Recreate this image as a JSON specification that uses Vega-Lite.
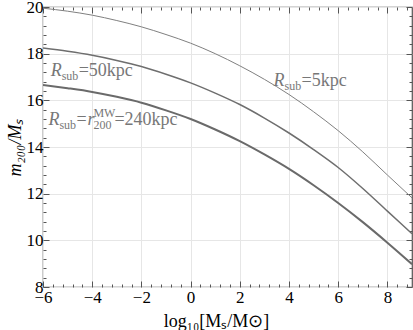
{
  "$schema": "https://vega.github.io/schema/vega-lite/v6.json",
  "width": 369,
  "height": 280,
  "autosize": {"type": "none"},
  "padding": {"left": 43, "top": 7, "right": 1, "bottom": 43},
  "background": "white",
  "config": {
    "view": {"stroke": "#555555", "strokeWidth": 1.2},
    "font": "Liberation Serif",
    "axis": {
      "domain": false,
      "labelFont": "Liberation Serif",
      "labelFontSize": 17,
      "labelColor": "#000000",
      "labelOverlap": false,
      "titleFont": "Liberation Serif",
      "titleFontSize": 18,
      "titleFontWeight": "normal",
      "titleColor": "#000000",
      "tickColor": "#555555",
      "gridColor": "#e6e6e6",
      "gridWidth": 1
    }
  },
  "datasets": {
    "curves": [
      {"x": -6, "y": 19.95, "s": "5kpc"}, {"x": -5, "y": 19.82, "s": "5kpc"}, {"x": -4, "y": 19.65, "s": "5kpc"}, {"x": -3, "y": 19.42, "s": "5kpc"}, {"x": -2, "y": 19.15, "s": "5kpc"}, {"x": -1, "y": 18.82, "s": "5kpc"}, {"x": 0, "y": 18.45, "s": "5kpc"}, {"x": 1, "y": 18.0, "s": "5kpc"}, {"x": 2, "y": 17.48, "s": "5kpc"}, {"x": 3, "y": 16.9, "s": "5kpc"}, {"x": 4, "y": 16.25, "s": "5kpc"}, {"x": 5, "y": 15.51, "s": "5kpc"}, {"x": 6, "y": 14.7, "s": "5kpc"}, {"x": 7, "y": 13.79, "s": "5kpc"}, {"x": 8, "y": 12.8, "s": "5kpc"}, {"x": 9, "y": 11.82, "s": "5kpc"},
      {"x": -6, "y": 18.24, "s": "50kpc"}, {"x": -5, "y": 18.1, "s": "50kpc"}, {"x": -4, "y": 17.93, "s": "50kpc"}, {"x": -3, "y": 17.71, "s": "50kpc"}, {"x": -2, "y": 17.45, "s": "50kpc"}, {"x": -1, "y": 17.12, "s": "50kpc"}, {"x": 0, "y": 16.75, "s": "50kpc"}, {"x": 1, "y": 16.31, "s": "50kpc"}, {"x": 2, "y": 15.82, "s": "50kpc"}, {"x": 3, "y": 15.24, "s": "50kpc"}, {"x": 4, "y": 14.6, "s": "50kpc"}, {"x": 5, "y": 13.89, "s": "50kpc"}, {"x": 6, "y": 13.12, "s": "50kpc"}, {"x": 7, "y": 12.22, "s": "50kpc"}, {"x": 8, "y": 11.25, "s": "50kpc"}, {"x": 9, "y": 10.28, "s": "50kpc"},
      {"x": -6, "y": 16.66, "s": "240kpc"}, {"x": -5, "y": 16.52, "s": "240kpc"}, {"x": -4, "y": 16.36, "s": "240kpc"}, {"x": -3, "y": 16.15, "s": "240kpc"}, {"x": -2, "y": 15.9, "s": "240kpc"}, {"x": -1, "y": 15.57, "s": "240kpc"}, {"x": 0, "y": 15.2, "s": "240kpc"}, {"x": 1, "y": 14.75, "s": "240kpc"}, {"x": 2, "y": 14.25, "s": "240kpc"}, {"x": 3, "y": 13.68, "s": "240kpc"}, {"x": 4, "y": 13.06, "s": "240kpc"}, {"x": 5, "y": 12.36, "s": "240kpc"}, {"x": 6, "y": 11.6, "s": "240kpc"}, {"x": 7, "y": 10.78, "s": "240kpc"}, {"x": 8, "y": 9.9, "s": "240kpc"}, {"x": 9, "y": 8.98, "s": "240kpc"}
    ],
    "labels": [
      {"id": "l50", "x": -5.69, "y": 17.04, "r": "R", "sub": "sub", "rest": "=50kpc"},
      {"id": "l5", "x": 3.37, "y": 16.62, "r": "R", "sub": "sub", "rest": "=5kpc"},
      {"id": "l240", "x": -5.78, "y": 14.94, "r": "R", "sub": "sub", "eq": "=", "r2": "r", "sup": "MW", "sub2": "200", "rest2": "=240kpc"}
    ]
  },
  "layer": [
    {
      "data": {"name": "curves"},
      "mark": {"type": "line", "interpolate": "monotone", "clip": true},
      "encoding": {
        "x": {
          "field": "x", "type": "quantitative",
          "scale": {"domain": [-6, 9], "nice": false, "zero": false},
          "axis": {
            "orient": "bottom",
            "values": [-6, -5.6, -5.2, -4.8, -4.4, -4, -3.6, -3.2, -2.8, -2.4, -2, -1.6, -1.2, -0.8, -0.4, 0, 0.4, 0.8, 1.2, 1.6, 2, 2.4, 2.8, 3.2, 3.6, 4, 4.4, 4.8, 5.2, 5.6, 6, 6.4, 6.8, 7.2, 7.6, 8, 8.4, 8.8],
            "labelExpr": "abs(datum.value % 2) < 0.01 ? format(datum.value, 'd') : ''",
            "tickSize": {"condition": {"test": "abs(datum.value % 2) < 0.01", "value": -6}, "value": -3},
            "gridOpacity": {"condition": {"test": "abs(datum.value % 2) < 0.01", "value": 1}, "value": 0},
            "grid": true,
            "labelPadding": 8,
            "labelFlush": false,
            "title": "log₁₀[Mₛ/M⊙]",
            "titleAnchor": "middle",
            "titleX": 173,
            "titlePadding": 4
          }
        },
        "y": {
          "field": "y", "type": "quantitative",
          "scale": {"domain": [8, 20], "nice": false, "zero": false},
          "axis": {
            "orient": "left",
            "values": [8, 8.4, 8.8, 9.2, 9.6, 10, 10.4, 10.8, 11.2, 11.6, 12, 12.4, 12.8, 13.2, 13.6, 14, 14.4, 14.8, 15.2, 15.6, 16, 16.4, 16.8, 17.2, 17.6, 18, 18.4, 18.8, 19.2, 19.6, 20],
            "labelExpr": "abs(datum.value % 2) < 0.01 ? format(datum.value, 'd') : ''",
            "tickSize": {"condition": {"test": "abs(datum.value % 2) < 0.01", "value": -6}, "value": -3},
            "gridOpacity": {"condition": {"test": "abs(datum.value % 2) < 0.01", "value": 1}, "value": 0},
            "grid": true,
            "labelPadding": 6,
            "labelFlush": false,
            "title": "m₂₀₀/Mₛ",
            "titleFontStyle": "italic",
            "titlePadding": 2
          }
        },
        "detail": {"field": "s"},
        "strokeWidth": {"field": "s", "type": "nominal", "scale": {"domain": ["5kpc", "50kpc", "240kpc"], "range": [1, 2, 3]}, "legend": null},
        "color": {"field": "s", "type": "nominal", "scale": {"domain": ["5kpc", "50kpc", "240kpc"], "range": ["#808080", "#6e6e6e", "#6a6a6a"]}, "legend": null}
      }
    },
    {
      "data": {"name": "curves"},
      "mark": {"type": "point", "opacity": 0},
      "encoding": {
        "x": {
          "field": "x", "type": "quantitative",
          "axis": {
            "orient": "top",
            "values": [-6, -5.6, -5.2, -4.8, -4.4, -4, -3.6, -3.2, -2.8, -2.4, -2, -1.6, -1.2, -0.8, -0.4, 0, 0.4, 0.8, 1.2, 1.6, 2, 2.4, 2.8, 3.2, 3.6, 4, 4.4, 4.8, 5.2, 5.6, 6, 6.4, 6.8, 7.2, 7.6, 8, 8.4, 8.8],
            "labels": false, "grid": false, "title": null,
            "tickSize": {"condition": {"test": "abs(datum.value % 2) < 0.01", "value": -6}, "value": -3}
          }
        },
        "y": {
          "field": "y", "type": "quantitative",
          "axis": {
            "orient": "right",
            "values": [8, 8.4, 8.8, 9.2, 9.6, 10, 10.4, 10.8, 11.2, 11.6, 12, 12.4, 12.8, 13.2, 13.6, 14, 14.4, 14.8, 15.2, 15.6, 16, 16.4, 16.8, 17.2, 17.6, 18, 18.4, 18.8, 19.2, 19.6, 20],
            "labels": false, "grid": false, "title": null,
            "tickSize": {"condition": {"test": "abs(datum.value % 2) < 0.01", "value": -6}, "value": -3}
          }
        }
      }
    },
    {
      "data": {"name": "labels"},
      "mark": {"type": "text", "align": "left", "baseline": "alphabetic", "fontSize": 18, "fontStyle": "italic", "color": "#777777"},
      "encoding": {"x": {"field": "x", "type": "quantitative", "axis": null}, "y": {"field": "y", "type": "quantitative", "axis": null}, "text": {"field": "r"}}
    },
    {
      "data": {"name": "labels"},
      "mark": {"type": "text", "align": "left", "baseline": "alphabetic", "fontSize": 12, "dx": 11, "dy": 4, "color": "#777777"},
      "encoding": {"x": {"field": "x", "type": "quantitative", "axis": null}, "y": {"field": "y", "type": "quantitative", "axis": null}, "text": {"field": "sub"}}
    },
    {
      "data": {"name": "labels"},
      "transform": [{"filter": "datum.rest != null"}],
      "mark": {"type": "text", "align": "left", "baseline": "alphabetic", "fontSize": 18, "dx": 28, "color": "#777777"},
      "encoding": {"x": {"field": "x", "type": "quantitative", "axis": null}, "y": {"field": "y", "type": "quantitative", "axis": null}, "text": {"field": "rest"}}
    },
    {
      "data": {"name": "labels"},
      "transform": [{"filter": "datum.id == 'l240'"}],
      "mark": {"type": "text", "align": "left", "baseline": "alphabetic", "fontSize": 18, "dx": 28, "color": "#777777"},
      "encoding": {"x": {"field": "x", "type": "quantitative", "axis": null}, "y": {"field": "y", "type": "quantitative", "axis": null}, "text": {"field": "eq"}}
    },
    {
      "data": {"name": "labels"},
      "transform": [{"filter": "datum.id == 'l240'"}],
      "mark": {"type": "text", "align": "left", "baseline": "alphabetic", "fontSize": 18, "fontStyle": "italic", "dx": 39, "color": "#777777"},
      "encoding": {"x": {"field": "x", "type": "quantitative", "axis": null}, "y": {"field": "y", "type": "quantitative", "axis": null}, "text": {"field": "r2"}}
    },
    {
      "data": {"name": "labels"},
      "transform": [{"filter": "datum.id == 'l240'"}],
      "mark": {"type": "text", "align": "left", "baseline": "alphabetic", "fontSize": 12, "dx": 45, "dy": -8, "color": "#777777"},
      "encoding": {"x": {"field": "x", "type": "quantitative", "axis": null}, "y": {"field": "y", "type": "quantitative", "axis": null}, "text": {"field": "sup"}}
    },
    {
      "data": {"name": "labels"},
      "transform": [{"filter": "datum.id == 'l240'"}],
      "mark": {"type": "text", "align": "left", "baseline": "alphabetic", "fontSize": 12, "dx": 45, "dy": 4, "color": "#777777"},
      "encoding": {"x": {"field": "x", "type": "quantitative", "axis": null}, "y": {"field": "y", "type": "quantitative", "axis": null}, "text": {"field": "sub2"}}
    },
    {
      "data": {"name": "labels"},
      "transform": [{"filter": "datum.id == 'l240'"}],
      "mark": {"type": "text", "align": "left", "baseline": "alphabetic", "fontSize": 18, "dx": 66, "color": "#777777"},
      "encoding": {"x": {"field": "x", "type": "quantitative", "axis": null}, "y": {"field": "y", "type": "quantitative", "axis": null}, "text": {"field": "rest2"}}
    }
  ],
  "resolve": {"axis": {"x": "independent", "y": "independent"}}
}
